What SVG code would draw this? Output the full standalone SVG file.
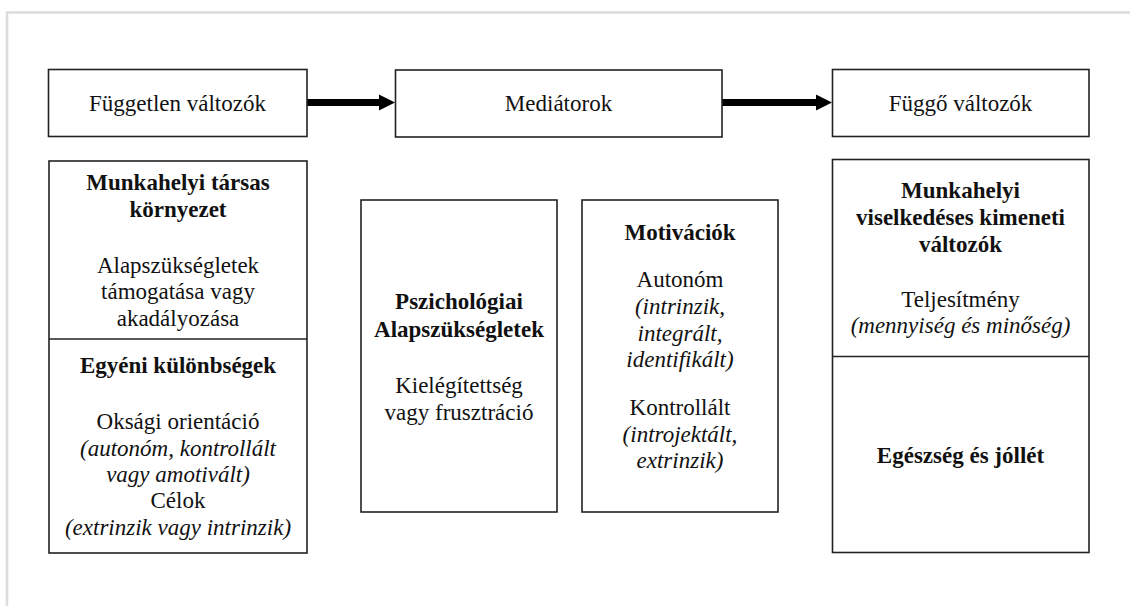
<svg xmlns="http://www.w3.org/2000/svg" width="1130" height="606" viewBox="0 0 1130 606">
  <style>
    .box { fill: #fff; stroke: #222; stroke-width: 1.6; }
    .div { stroke: #222; stroke-width: 1.6; }
    text { font-size: 23px; fill: #111; text-anchor: middle; }
    .b { font-weight: bold; }
    .i { font-style: italic; }
    .conn { stroke: #000; stroke-width: 7; fill: none; }
    .head { fill: #000; }
  </style>

  <rect x="0" y="0" width="1130" height="606" fill="#fff"/>
  <!-- page frame -->
  <path d="M7,606 L7,12.5 L1130,12.5" fill="none" stroke="#dcdcdc" stroke-width="2.5"/>

  <!-- connectors -->
  <g id="connectors">
    <line class="conn" x1="307" y1="102.5" x2="381" y2="102.5"/>
    <path class="head" d="M379,94.5 L395,102.5 L379,110.5 Z"/>
    <line class="conn" x1="722" y1="102.5" x2="818" y2="102.5"/>
    <path class="head" d="M816,94.5 L832,102.5 L816,110.5 Z"/>
  </g>

  <g font-family="Liberation Serif, Times New Roman, serif">
  <!-- header row -->
  <g id="independent-header">
    <rect class="box" x="48.5" y="69.5" width="258.5" height="67"/>
    <text x="177.5" y="111">Független változók</text>
  </g>
  <g id="mediators-header">
    <rect class="box" x="395.5" y="70" width="326.5" height="67"/>
    <text x="558.5" y="111">Mediátorok</text>
  </g>
  <g id="dependent-header">
    <rect class="box" x="832.5" y="69.5" width="256.5" height="67"/>
    <text x="960.5" y="111">Függő változók</text>
  </g>

  <!-- independent variables -->
  <g id="independent-vars">
    <rect class="box" x="49" y="161" width="258" height="392"/>
    <line class="div" x1="49" y1="339" x2="307" y2="339"/>
    <text class="b" x="178" y="190">Munkahelyi társas</text>
    <text class="b" x="178" y="216.5">környezet</text>
    <text x="178" y="272.5">Alapszükségletek</text>
    <text x="178" y="299">támogatása vagy</text>
    <text x="178" y="325.5">akadályozása</text>
    <text class="b" x="178" y="372.5">Egyéni különbségek</text>
    <text x="178" y="429">Oksági orientáció</text>
    <text class="i" x="178" y="455.5">(autonóm, kontrollált</text>
    <text class="i" x="178" y="482">vagy amotivált)</text>
    <text x="178" y="508">Célok</text>
    <text class="i" x="178" y="535">(extrinzik vagy intrinzik)</text>
  </g>

  <!-- mediators -->
  <g id="basic-needs">
    <rect class="box" x="361" y="200" width="196" height="312"/>
    <text class="b" x="459" y="308.5">Pszichológiai</text>
    <text class="b" x="459" y="336.5">Alapszükségletek</text>
    <text x="459" y="393">Kielégítettség</text>
    <text x="459" y="419.5">vagy frusztráció</text>
  </g>
  <g id="motivations">
    <rect class="box" x="582" y="200" width="196" height="312"/>
    <text class="b" x="680" y="240">Motivációk</text>
    <text x="680" y="287">Autonóm</text>
    <text class="i" x="680" y="314">(intrinzik,</text>
    <text class="i" x="680" y="340.5">integrált,</text>
    <text class="i" x="680" y="367">identifikált)</text>
    <text x="680" y="415">Kontrollált</text>
    <text class="i" x="680" y="441.5">(introjektált,</text>
    <text class="i" x="680" y="468">extrinzik)</text>
  </g>

  <!-- dependent variables -->
  <g id="dependent-vars">
    <rect class="box" x="832.5" y="159.5" width="256.5" height="393"/>
    <line class="div" x1="832.5" y1="356.5" x2="1089" y2="356.5"/>
    <text class="b" x="960.5" y="198">Munkahelyi</text>
    <text class="b" x="960.5" y="225">viselkedéses kimeneti</text>
    <text class="b" x="960.5" y="251.5">változók</text>
    <text x="960.5" y="306.5">Teljesítmény</text>
    <text class="i" x="960.5" y="333">(mennyiség és minőség)</text>
    <text class="b" x="960.5" y="462.5">Egészség és jóllét</text>
  </g>
  </g>
</svg>
